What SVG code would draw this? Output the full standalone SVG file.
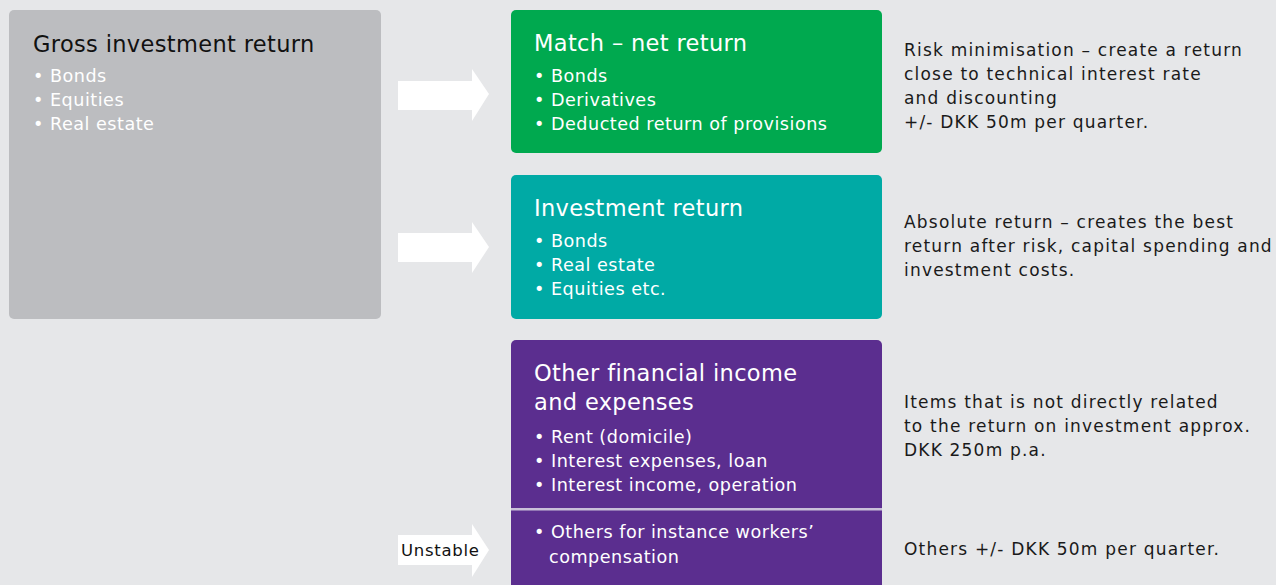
<svg xmlns="http://www.w3.org/2000/svg" width="1276" height="585" viewBox="0 0 1276 585">
<style>
.t{font-family:"DejaVu Sans","Noto Sans",sans-serif;}
.h{font-size:22.5px;fill:#fff;letter-spacing:0.35px;}
.b{font-size:17.6px;fill:#fff;letter-spacing:0.5px;}
.d{font-size:17px;fill:#1a1a1a;letter-spacing:1.2px;}
.arr{fill:#fff;}
</style>
<rect x="0" y="0" width="1276" height="585" fill="#e6e7e9"/>
<g id="gross">
<rect x="9" y="10" width="372" height="309" rx="5" fill="#bcbdc0"/>
<text class="t h" x="33" y="52" style="fill:#111">Gross investment return</text>
<text class="t b" x="33" y="82">• Bonds</text>
<text class="t b" x="33" y="106">• Equities</text>
<text class="t b" x="33" y="130">• Real estate</text>
</g>
<g id="match">
<rect x="511" y="10" width="371" height="143" rx="5" fill="#00a94f"/>
<text class="t h" x="534" y="51">Match – net return</text>
<text class="t b" x="534" y="82">• Bonds</text>
<text class="t b" x="534" y="106">• Derivatives</text>
<text class="t b" x="534" y="130">• Deducted return of provisions</text>
</g>
<g id="investment">
<rect x="511" y="175" width="371" height="144" rx="5" fill="#00aaa5"/>
<text class="t h" x="534" y="216">Investment return</text>
<text class="t b" x="534" y="247">• Bonds</text>
<text class="t b" x="534" y="271">• Real estate</text>
<text class="t b" x="534" y="295">• Equities etc.</text>
</g>
<g id="other">
<rect x="511" y="340" width="371" height="260" rx="5" fill="#5b2e8f"/>
<text class="t h" x="534" y="381">Other financial income</text>
<text class="t h" x="534" y="410">and expenses</text>
<text class="t b" x="534" y="443">• Rent (domicile)</text>
<text class="t b" x="534" y="467">• Interest expenses, loan</text>
<text class="t b" x="534" y="491">• Interest income, operation</text>
<rect x="511" y="508" width="371" height="2.5" fill="#c9c0d9"/>
<text class="t b" x="534" y="538">• Others for instance workers’</text>
<text class="t b" x="549" y="563">compensation</text>
</g>
<g id="desc1"><text class="t d" x="904" y="56">Risk minimisation – create a return</text>
<text class="t d" x="904" y="80">close to technical interest rate</text>
<text class="t d" x="904" y="104">and discounting</text>
<text class="t d" x="904" y="128">+/- DKK 50m per quarter.</text></g>
<g id="desc2"><text class="t d" x="904" y="228">Absolute return – creates the best</text>
<text class="t d" x="904" y="252">return after risk, capital spending and</text>
<text class="t d" x="904" y="276">investment costs.</text></g>
<g id="desc3"><text class="t d" x="904" y="408">Items that is not directly related</text>
<text class="t d" x="904" y="432">to the return on investment approx.</text>
<text class="t d" x="904" y="456">DKK 250m p.a.</text></g>
<g id="desc4"><text class="t d" x="904" y="555">Others +/- DKK 50m per quarter.</text></g>
<g id="connectors">
<polygon class="arr" points="398,81 472,81 472,69 489,94 472,121 472,110 398,110"/>
<polygon class="arr" points="398,233 472,233 472,222 489,247 472,273 472,262 398,262"/>
<polygon class="arr" points="398,535 472,535 472,524 489,550 472,577 472,565 398,565"/>
<text class="t" x="401" y="556" style="font-size:16.5px;fill:#111;letter-spacing:0.7px">Unstable</text>
</g>
</svg>
